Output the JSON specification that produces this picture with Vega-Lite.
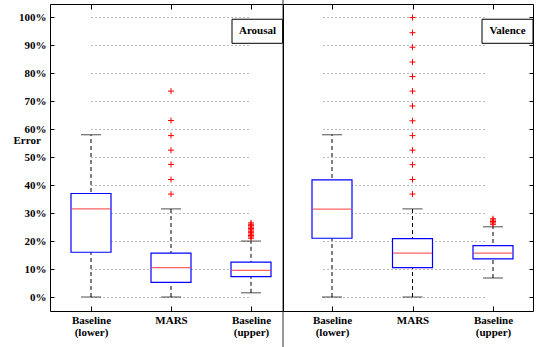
{
  "$schema": "https://vega.github.io/schema/vega-lite/v6.json",
  "padding": {"left": 12, "top": -2, "right": 5, "bottom": 0},
  "background": "white",
  "spacing": 0,
  "bounds": "flush",
  "resolve": {"scale": {"x": "independent"}},
  "datasets": {
    "boxes": [
      {"panel": "Arousal", "group": "Baseline (lower)", "low": 0, "q1": 16, "median": 31.5, "q3": 37, "high": 58},
      {"panel": "Arousal", "group": "MARS", "low": 0, "q1": 5.2, "median": 10.5, "q3": 15.7, "high": 31.5},
      {"panel": "Arousal", "group": "Baseline (upper)", "low": 1.5, "q1": 7.3, "median": 9.5, "q3": 12.5, "high": 20},
      {"panel": "Valence", "group": "Baseline (lower)", "low": 0, "q1": 21, "median": 31.4, "q3": 41.9, "high": 58},
      {"panel": "Valence", "group": "MARS", "low": 0, "q1": 10.5, "median": 15.7, "q3": 20.9, "high": 31.5},
      {"panel": "Valence", "group": "Baseline (upper)", "low": 6.8, "q1": 13.6, "median": 15.7, "q3": 18.4, "high": 25.1}
    ],
    "outliers": [
      {"panel": "Arousal", "group": "MARS", "value": 36.8},
      {"panel": "Arousal", "group": "MARS", "value": 42},
      {"panel": "Arousal", "group": "MARS", "value": 47.4},
      {"panel": "Arousal", "group": "MARS", "value": 52.5},
      {"panel": "Arousal", "group": "MARS", "value": 57.7},
      {"panel": "Arousal", "group": "MARS", "value": 63.1},
      {"panel": "Arousal", "group": "MARS", "value": 73.6},
      {"panel": "Arousal", "group": "Baseline (upper)", "value": 21},
      {"panel": "Arousal", "group": "Baseline (upper)", "value": 21.5},
      {"panel": "Arousal", "group": "Baseline (upper)", "value": 22},
      {"panel": "Arousal", "group": "Baseline (upper)", "value": 22.5},
      {"panel": "Arousal", "group": "Baseline (upper)", "value": 23},
      {"panel": "Arousal", "group": "Baseline (upper)", "value": 23.5},
      {"panel": "Arousal", "group": "Baseline (upper)", "value": 24},
      {"panel": "Arousal", "group": "Baseline (upper)", "value": 24.5},
      {"panel": "Arousal", "group": "Baseline (upper)", "value": 25},
      {"panel": "Arousal", "group": "Baseline (upper)", "value": 25.5},
      {"panel": "Arousal", "group": "Baseline (upper)", "value": 26},
      {"panel": "Arousal", "group": "Baseline (upper)", "value": 26.5},
      {"panel": "Valence", "group": "MARS", "value": 36.8},
      {"panel": "Valence", "group": "MARS", "value": 42},
      {"panel": "Valence", "group": "MARS", "value": 47.3},
      {"panel": "Valence", "group": "MARS", "value": 52.5},
      {"panel": "Valence", "group": "MARS", "value": 57.7},
      {"panel": "Valence", "group": "MARS", "value": 63},
      {"panel": "Valence", "group": "MARS", "value": 68.3},
      {"panel": "Valence", "group": "MARS", "value": 73.6},
      {"panel": "Valence", "group": "MARS", "value": 78.8},
      {"panel": "Valence", "group": "MARS", "value": 84},
      {"panel": "Valence", "group": "MARS", "value": 89.3},
      {"panel": "Valence", "group": "MARS", "value": 94.5},
      {"panel": "Valence", "group": "MARS", "value": 99.9},
      {"panel": "Valence", "group": "Baseline (upper)", "value": 26},
      {"panel": "Valence", "group": "Baseline (upper)", "value": 26.5},
      {"panel": "Valence", "group": "Baseline (upper)", "value": 27},
      {"panel": "Valence", "group": "Baseline (upper)", "value": 27.5},
      {"panel": "Valence", "group": "Baseline (upper)", "value": 28}
    ],
    "labels": [
      {"panel": "Arousal"},
      {"panel": "Valence"}
    ]
  },
  "hconcat": [
    {
      "width": 233,
      "height": 307,
      "resolve": {"axis": {"x": "independent"}},
      "layer": [
        {
          "data": {"name": "boxes"},
          "transform": [{"filter": "datum.panel == 'Arousal'"}],
          "mark": {"type": "rule", "color": "black", "strokeWidth": 1, "strokeDash": [4, 3]},
          "encoding": {
            "x": {"field": "group", "type": "nominal", "sort": null,
                  "scale": {"type": "point", "domain": ["Baseline (lower)", "MARS", "Baseline (upper)"], "range": [41, 201], "padding": 0},
                  "axis": {"orient": "bottom", "title": null, "labelAngle": 0, "labelBaseline": "top", "labelPadding": 8, "tickSize": -5, "grid": false, "domain": false, "labelLineHeight": 12,
                           "labelExpr": "datum.value == 'MARS' ? 'MARS' : split(datum.value, ' ')"}},
            "y": {"field": "low", "type": "quantitative", "title": "Error",
                  "scale": {"domain": [-5, 104.75], "nice": false, "zero": false},
                  "axis": {"orient": "left", "values": [0, 10, 20, 30, 40, 50, 60, 70, 80, 90, 100], "labelExpr": "datum.value + '%'", "labelOverlap": false, "grid": true, "tickSize": -4, "labelPadding": 8, "domain": false,
                           "titleAngle": 0, "titleAlign": "left", "titleBaseline": "middle", "titleX": -37, "titleY": 136, "titleFontWeight": "bold", "titleFontSize": 11, "titleFont": "Liberation Serif", "titleColor": "black"}},
            "y2": {"field": "high"}
          }
        },
        {
          "data": {"name": "boxes"},
          "transform": [{"filter": "datum.panel == 'Arousal'"}],
          "mark": {"type": "tick", "color": "black", "thickness": 1, "size": 20, "orient": "horizontal"},
          "encoding": {
            "x": {"field": "group", "type": "nominal", "sort": null,
                  "axis": {"orient": "top", "labels": false, "title": null, "tickSize": -5, "grid": false, "domain": false}},
            "y": {"field": "low", "type": "quantitative", "title": "Error",
                  "axis": {"orient": "left", "values": [0, 10, 20, 30, 40, 50, 60, 70, 80, 90, 100], "labelExpr": "datum.value + '%'", "labelOverlap": false, "grid": true, "tickSize": -4, "labelPadding": 8, "domain": false,
                           "titleAngle": 0, "titleAlign": "left", "titleBaseline": "middle", "titleX": -37, "titleY": 136, "titleFontWeight": "bold", "titleFontSize": 11, "titleFont": "Liberation Serif", "titleColor": "black"}}
          }
        },
        {
          "data": {"name": "boxes"},
          "transform": [{"filter": "datum.panel == 'Arousal'"}],
          "mark": {"type": "tick", "color": "black", "thickness": 1, "size": 20, "orient": "horizontal"},
          "encoding": {
            "x": {"field": "group", "type": "nominal", "sort": null, "axis": null},
            "y": {"field": "high", "type": "quantitative", "title": "Error",
                  "axis": {"orient": "left", "values": [0, 10, 20, 30, 40, 50, 60, 70, 80, 90, 100], "labelExpr": "datum.value + '%'", "labelOverlap": false, "grid": true, "tickSize": -4, "labelPadding": 8, "domain": false,
                           "titleAngle": 0, "titleAlign": "left", "titleBaseline": "middle", "titleX": -37, "titleY": 136, "titleFontWeight": "bold", "titleFontSize": 11, "titleFont": "Liberation Serif", "titleColor": "black"}}
          }
        },
        {
          "data": {"name": "boxes"},
          "transform": [{"filter": "datum.panel == 'Arousal'"}],
          "mark": {"type": "bar", "fill": "white", "stroke": "#0000ff", "strokeWidth": 1.2, "size": 40},
          "encoding": {
            "x": {"field": "group", "type": "nominal", "sort": null, "axis": null},
            "y": {"field": "q1", "type": "quantitative", "title": "Error",
                  "axis": {"orient": "left", "values": [0, 10, 20, 30, 40, 50, 60, 70, 80, 90, 100], "labelExpr": "datum.value + '%'", "labelOverlap": false, "grid": true, "tickSize": -4, "labelPadding": 8, "domain": false,
                           "titleAngle": 0, "titleAlign": "left", "titleBaseline": "middle", "titleX": -37, "titleY": 136, "titleFontWeight": "bold", "titleFontSize": 11, "titleFont": "Liberation Serif", "titleColor": "black"}},
            "y2": {"field": "q3"}
          }
        },
        {
          "data": {"name": "boxes"},
          "transform": [{"filter": "datum.panel == 'Arousal'"}],
          "mark": {"type": "tick", "color": "#ff2020", "thickness": 1.2, "size": 39, "orient": "horizontal"},
          "encoding": {
            "x": {"field": "group", "type": "nominal", "sort": null, "axis": null},
            "y": {"field": "median", "type": "quantitative", "title": "Error",
                  "axis": {"orient": "left", "values": [0, 10, 20, 30, 40, 50, 60, 70, 80, 90, 100], "labelExpr": "datum.value + '%'", "labelOverlap": false, "grid": true, "tickSize": -4, "labelPadding": 8, "domain": false,
                           "titleAngle": 0, "titleAlign": "left", "titleBaseline": "middle", "titleX": -37, "titleY": 136, "titleFontWeight": "bold", "titleFontSize": 11, "titleFont": "Liberation Serif", "titleColor": "black"}}
          }
        },
        {
          "data": {"name": "outliers"},
          "transform": [{"filter": "datum.panel == 'Arousal'"}],
          "mark": {"type": "point", "shape": "M-1,0L1,0M0,-1L0,1", "filled": false, "stroke": "#ff0000", "strokeWidth": 1, "size": 36, "opacity": 1},
          "encoding": {
            "x": {"field": "group", "type": "nominal", "sort": null, "axis": null},
            "y": {"field": "value", "type": "quantitative", "title": "Error",
                  "axis": {"orient": "left", "values": [0, 10, 20, 30, 40, 50, 60, 70, 80, 90, 100], "labelExpr": "datum.value + '%'", "labelOverlap": false, "grid": true, "tickSize": -4, "labelPadding": 8, "domain": false,
                           "titleAngle": 0, "titleAlign": "left", "titleBaseline": "middle", "titleX": -37, "titleY": 136, "titleFontWeight": "bold", "titleFontSize": 11, "titleFont": "Liberation Serif", "titleColor": "black"}}
          }
        },
        {
          "data": {"name": "labels"},
          "transform": [{"filter": "datum.panel == 'Arousal'"}],
          "mark": {"type": "rect", "fill": "white", "stroke": "black", "strokeWidth": 1, "xOffset": -19, "x2Offset": 31.5},
          "encoding": {
            "x": {"datum": "Baseline (upper)", "type": "nominal", "axis": null},
            "x2": {"datum": "Baseline (upper)"},
            "y": {"datum": 99.3, "type": "quantitative", "title": "Error",
                  "axis": {"orient": "left", "values": [0, 10, 20, 30, 40, 50, 60, 70, 80, 90, 100], "labelExpr": "datum.value + '%'", "labelOverlap": false, "grid": true, "tickSize": -4, "labelPadding": 8, "domain": false,
                           "titleAngle": 0, "titleAlign": "left", "titleBaseline": "middle", "titleX": -37, "titleY": 136, "titleFontWeight": "bold", "titleFontSize": 11, "titleFont": "Liberation Serif", "titleColor": "black"}},
            "y2": {"datum": 90.7}
          }
        },
        {
          "data": {"name": "labels"},
          "transform": [{"filter": "datum.panel == 'Arousal'"}],
          "mark": {"type": "text", "font": "Liberation Serif", "fontWeight": "bold", "fontSize": 11, "color": "black", "dx": 6.5, "baseline": "middle", "align": "center"},
          "encoding": {
            "x": {"datum": "Baseline (upper)", "type": "nominal", "axis": null},
            "y": {"datum": 95, "type": "quantitative", "title": "Error",
                  "axis": {"orient": "left", "values": [0, 10, 20, 30, 40, 50, 60, 70, 80, 90, 100], "labelExpr": "datum.value + '%'", "labelOverlap": false, "grid": true, "tickSize": -4, "labelPadding": 8, "domain": false,
                           "titleAngle": 0, "titleAlign": "left", "titleBaseline": "middle", "titleX": -37, "titleY": 136, "titleFontWeight": "bold", "titleFontSize": 11, "titleFont": "Liberation Serif", "titleColor": "black"}},
            "text": {"field": "panel"}
          }
        },
        {
          "data": {"name": "labels"},
          "transform": [{"filter": "datum.panel == 'Arousal'"}],
          "mark": {"type": "rule", "color": "#333333", "strokeWidth": 1, "xOffset": 32, "clip": false},
          "encoding": {
            "x": {"datum": "Baseline (upper)", "type": "nominal", "axis": null},
            "y": {"datum": 106.18, "type": "quantitative", "title": "Error",
                  "axis": {"orient": "left", "values": [0, 10, 20, 30, 40, 50, 60, 70, 80, 90, 100], "labelExpr": "datum.value + '%'", "labelOverlap": false, "grid": true, "tickSize": -4, "labelPadding": 8, "domain": false,
                           "titleAngle": 0, "titleAlign": "left", "titleBaseline": "middle", "titleX": -37, "titleY": 136, "titleFontWeight": "bold", "titleFontSize": 11, "titleFont": "Liberation Serif", "titleColor": "black"}},
            "y2": {"datum": -17.9}
          }
        }
      ]
    },
    {
      "width": 250,
      "height": 307,
      "resolve": {"axis": {"x": "independent"}},
      "layer": [
        {
          "data": {"name": "boxes"},
          "transform": [{"filter": "datum.panel == 'Valence'"}],
          "mark": {"type": "rule", "color": "black", "strokeWidth": 1, "strokeDash": [4, 3]},
          "encoding": {
            "x": {"field": "group", "type": "nominal", "sort": null,
                  "scale": {"type": "point", "domain": ["Baseline (lower)", "MARS", "Baseline (upper)"], "range": [49, 210], "padding": 0},
                  "axis": {"orient": "bottom", "title": null, "labelAngle": 0, "labelBaseline": "top", "labelPadding": 8, "tickSize": -5, "grid": false, "domain": false, "labelLineHeight": 12,
                           "labelExpr": "datum.value == 'MARS' ? 'MARS' : split(datum.value, ' ')"}},
            "y": {"field": "low", "type": "quantitative", "title": null,
                  "scale": {"domain": [-5, 104.75], "nice": false, "zero": false},
                  "axis": {"orient": "right", "values": [0, 10, 20, 30, 40, 50, 60, 70, 80, 90, 100], "labels": false, "labelOverlap": false, "grid": true, "tickSize": -4, "domain": false}},
            "y2": {"field": "high"}
          }
        },
        {
          "data": {"name": "boxes"},
          "transform": [{"filter": "datum.panel == 'Valence'"}],
          "mark": {"type": "tick", "color": "black", "thickness": 1, "size": 20, "orient": "horizontal"},
          "encoding": {
            "x": {"field": "group", "type": "nominal", "sort": null,
                  "axis": {"orient": "top", "labels": false, "title": null, "tickSize": -5, "grid": false, "domain": false}},
            "y": {"field": "low", "type": "quantitative", "title": null,
                  "axis": {"orient": "right", "values": [0, 10, 20, 30, 40, 50, 60, 70, 80, 90, 100], "labels": false, "labelOverlap": false, "grid": true, "tickSize": -4, "domain": false}}
          }
        },
        {
          "data": {"name": "boxes"},
          "transform": [{"filter": "datum.panel == 'Valence'"}],
          "mark": {"type": "tick", "color": "black", "thickness": 1, "size": 20, "orient": "horizontal"},
          "encoding": {
            "x": {"field": "group", "type": "nominal", "sort": null, "axis": null},
            "y": {"field": "high", "type": "quantitative", "title": null,
                  "axis": {"orient": "right", "values": [0, 10, 20, 30, 40, 50, 60, 70, 80, 90, 100], "labels": false, "labelOverlap": false, "grid": true, "tickSize": -4, "domain": false}}
          }
        },
        {
          "data": {"name": "boxes"},
          "transform": [{"filter": "datum.panel == 'Valence'"}],
          "mark": {"type": "bar", "fill": "white", "stroke": "#0000ff", "strokeWidth": 1.2, "size": 40},
          "encoding": {
            "x": {"field": "group", "type": "nominal", "sort": null, "axis": null},
            "y": {"field": "q1", "type": "quantitative", "title": null,
                  "axis": {"orient": "right", "values": [0, 10, 20, 30, 40, 50, 60, 70, 80, 90, 100], "labels": false, "labelOverlap": false, "grid": true, "tickSize": -4, "domain": false}},
            "y2": {"field": "q3"}
          }
        },
        {
          "data": {"name": "boxes"},
          "transform": [{"filter": "datum.panel == 'Valence'"}],
          "mark": {"type": "tick", "color": "#ff2020", "thickness": 1.2, "size": 39, "orient": "horizontal"},
          "encoding": {
            "x": {"field": "group", "type": "nominal", "sort": null, "axis": null},
            "y": {"field": "median", "type": "quantitative", "title": null,
                  "axis": {"orient": "right", "values": [0, 10, 20, 30, 40, 50, 60, 70, 80, 90, 100], "labels": false, "labelOverlap": false, "grid": true, "tickSize": -4, "domain": false}}
          }
        },
        {
          "data": {"name": "outliers"},
          "transform": [{"filter": "datum.panel == 'Valence'"}],
          "mark": {"type": "point", "shape": "M-1,0L1,0M0,-1L0,1", "filled": false, "stroke": "#ff0000", "strokeWidth": 1, "size": 36, "opacity": 1},
          "encoding": {
            "x": {"field": "group", "type": "nominal", "sort": null, "axis": null},
            "y": {"field": "value", "type": "quantitative", "title": null,
                  "axis": {"orient": "right", "values": [0, 10, 20, 30, 40, 50, 60, 70, 80, 90, 100], "labels": false, "labelOverlap": false, "grid": true, "tickSize": -4, "domain": false}}
          }
        },
        {
          "data": {"name": "labels"},
          "transform": [{"filter": "datum.panel == 'Valence'"}],
          "mark": {"type": "rect", "fill": "white", "stroke": "black", "strokeWidth": 1, "xOffset": -11, "x2Offset": 40},
          "encoding": {
            "x": {"datum": "Baseline (upper)", "type": "nominal", "axis": null},
            "x2": {"datum": "Baseline (upper)"},
            "y": {"datum": 99.3, "type": "quantitative", "title": null,
                  "axis": {"orient": "right", "values": [0, 10, 20, 30, 40, 50, 60, 70, 80, 90, 100], "labels": false, "labelOverlap": false, "grid": true, "tickSize": -4, "domain": false}},
            "y2": {"datum": 90.7}
          }
        },
        {
          "data": {"name": "labels"},
          "transform": [{"filter": "datum.panel == 'Valence'"}],
          "mark": {"type": "text", "font": "Liberation Serif", "fontWeight": "bold", "fontSize": 11, "color": "black", "dx": 14.5, "baseline": "middle", "align": "center"},
          "encoding": {
            "x": {"datum": "Baseline (upper)", "type": "nominal", "axis": null},
            "y": {"datum": 95, "type": "quantitative", "title": null,
                  "axis": {"orient": "right", "values": [0, 10, 20, 30, 40, 50, 60, 70, 80, 90, 100], "labels": false, "labelOverlap": false, "grid": true, "tickSize": -4, "domain": false}},
            "text": {"field": "panel"}
          }
        }
      ]
    }
  ],
  "config": {
    "font": "Liberation Serif",
    "view": {"stroke": "black", "strokeWidth": 1},
    "concat": {"spacing": 0},
    "axis": {
      "labelFont": "Liberation Serif", "labelFontWeight": "bold", "labelFontSize": 11, "labelColor": "black",
      "tickColor": "black", "tickWidth": 1,
      "gridColor": "#777777", "gridDash": [1, 3], "gridWidth": 1, "gridOpacity": 1
    }
  }
}
